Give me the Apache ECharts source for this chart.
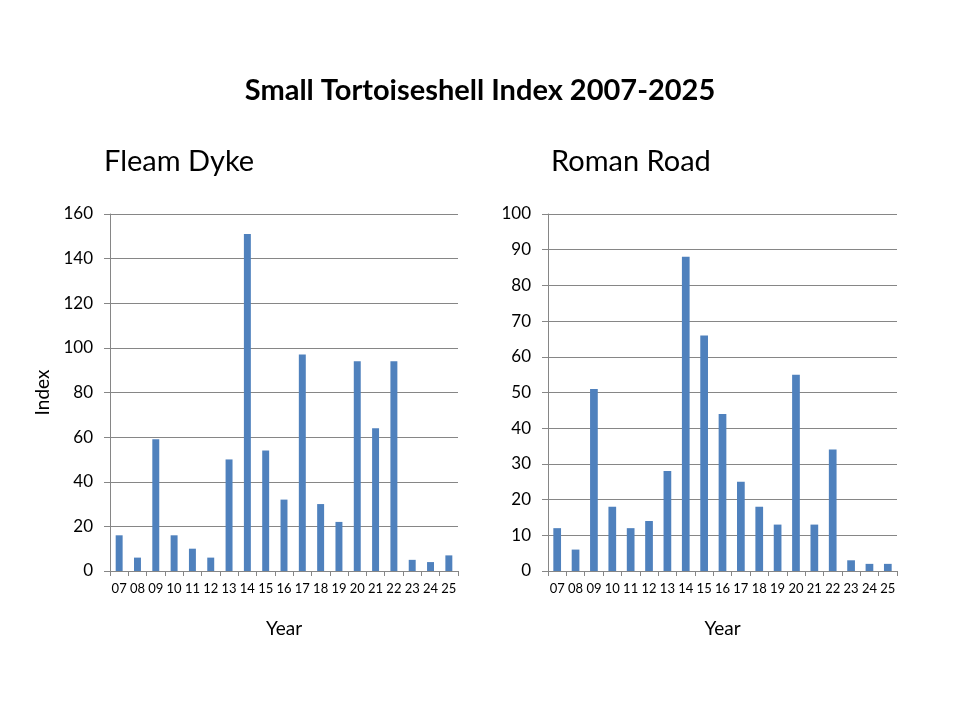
<!DOCTYPE html>
<html>
<head>
<meta charset="utf-8">
<script src="https://cdn.jsdelivr.net/npm/echarts@6/dist/echarts.min.js"></script>
<style>html,body{margin:0;padding:0;background:#fff;}#c{width:960px;height:720px;}</style>
</head>
<body>
<div id="c"></div>
<script>
const years = ['07','08','09','10','11','12','13','14','15','16','17','18','19','20','21','22','23','24','25'];
const fleamDyke = [16, 6, 59, 16, 10, 6, 50, 151, 54, 32, 97, 30, 22, 94, 64, 94, 5, 4, 7];
const romanRoad = [12, 6, 51, 18, 12, 14, 28, 88, 66, 44, 25, 18, 13, 55, 13, 34, 3, 2, 2];

const FONT = 'Lato';
const GRID_COLOR = '#868686';
const BAR_COLOR = '#4F81BD';

function xAxis(gridIndex) {
  return {
    type: 'category', gridIndex, data: years, boundaryGap: true,
    axisLine: {lineStyle: {color: GRID_COLOR, width: 1}},
    axisTick: {show: true, alignWithLabel: false, length: 5, lineStyle: {color: GRID_COLOR}},
    axisLabel: {color: '#000', fontFamily: FONT, fontSize: 13, margin: 11, interval: 0},
    name: 'Year', nameLocation: 'middle', nameGap: 48,
    nameTextStyle: {color: '#000', fontFamily: FONT, fontSize: 19}
  };
}
function yAxis(gridIndex, max, interval, name) {
  return {
    type: 'value', gridIndex, min: 0, max, interval,
    axisLine: {show: true, lineStyle: {color: GRID_COLOR, width: 1}},
    axisTick: {show: true, length: 6, inside: false, lineStyle: {color: GRID_COLOR}},
    splitLine: {show: true, lineStyle: {color: GRID_COLOR, width: 1}},
    axisLabel: {color: '#000', fontFamily: FONT, fontSize: 17, margin: 17},
    name, nameLocation: 'middle', nameGap: 58, nameRotate: 90,
    nameTextStyle: {color: '#000', fontFamily: FONT, fontSize: 19}
  };
}

const chart = echarts.init(document.getElementById('c'));
chart.setOption({
  backgroundColor: '#fff',
  animation: false,
  title: [
    {text: 'Small Tortoiseshell Index 2007-2025', left: 'center', top: 71,
     textStyle: {fontFamily: FONT, fontSize: 29, fontWeight: 'bold', color: '#000'}},
    {text: 'Fleam Dyke', left: 99, top: 142,
     textStyle: {fontFamily: FONT, fontSize: 29, fontWeight: 'normal', color: '#000'}},
    {text: 'Roman Road', left: 546, top: 142,
     textStyle: {fontFamily: FONT, fontSize: 29, fontWeight: 'normal', color: '#000'}}
  ],
  grid: [
    {left: 110, top: 214, width: 348, height: 357},
    {left: 548, top: 214, width: 349, height: 357}
  ],
  xAxis: [xAxis(0), xAxis(1)],
  yAxis: [yAxis(0, 160, 20, 'Index'), yAxis(1, 100, 10, '')],
  series: [
    {type: 'bar', xAxisIndex: 0, yAxisIndex: 0, data: fleamDyke, barWidth: '38%',
     itemStyle: {color: BAR_COLOR}},
    {type: 'bar', xAxisIndex: 1, yAxisIndex: 1, data: romanRoad, barWidth: '42%',
     itemStyle: {color: BAR_COLOR}}
  ]
});
</script>
</body>
</html>
